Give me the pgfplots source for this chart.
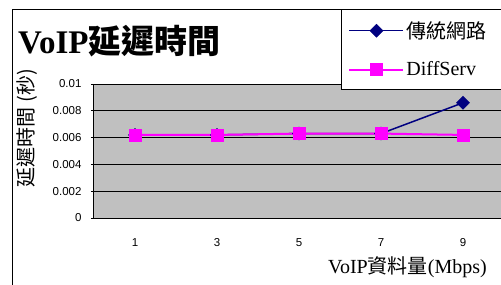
\documentclass[border=0pt]{standalone}
\usepackage{pgfplots}
\pgfplotsset{compat=1.18}
\usepackage{fontspec}
\setmainfont{Liberation Serif}
\setsansfont{Liberation Sans}
\newfontfamily\cjk{Noto Sans CJK TC}
\definecolor{navy}{RGB}{0,0,128}
\definecolor{mag}{RGB}{255,0,255}
\definecolor{bg}{RGB}{192,192,192}
\begin{document}
\begin{tikzpicture}[x=1pt,y=1pt]
\path[use as bounding box] (0,0) rectangle (501,-284);
\clip (0,0) rectangle (501,-284);
\draw[black, line width=1pt] (12,-9) rectangle (700,-400);
\node[anchor=base west, inner sep=0] at (18,-53) {\fontsize{33}{33}\selectfont\bfseries VoIP{\cjk\bfseries 延遲時間}};
\node[rotate=90, inner sep=0] at (27,-128) {\fontsize{20}{20}\selectfont\cjk 延遲時間 (秒)};
\node[anchor=base west, inner sep=0] at (328,-273) {\fontsize{20}{20}\selectfont VoIP{\cjk 資料量}(Mbps)};
\begin{axis}[
  at={(94pt,-218pt)}, anchor=south west,
  width=410pt, height=134pt, scale only axis,
  xmin=0, xmax=5, ymin=0, ymax=0.01,
  scaled y ticks=false,
  axis background/.style={fill=bg},
  axis lines*=left, axis line style={black, line width=1pt, -},
  xtick={0.5,1.5,2.5,3.5,4.5}, xticklabels={1,3,5,7,9},
  minor xtick={0,1,2,3,4,5},
  xtick style={draw=none},
  minor tick length=7pt, major tick length=6pt,
  tick align=center,
  tick style={black, line width=0.8pt},
  ytick={0,0.002,0.004,0.006,0.008,0.01},
  yticklabels={0,0.002,0.004,0.006,0.008,0.01},
  ymajorgrids, major grid style={black, line width=0.8pt},
  ticklabel style={font=\fontsize{11.5}{12}\selectfont\sffamily},
  yticklabel shift=6pt,
  xticklabel shift=14pt,
  clip=false,
  legend style={at={(0.6024,1.5597)}, anchor=north west, draw=black, line width=1pt, fill=white,
    font=\fontsize{20}{20}\selectfont, inner xsep=7pt, inner ysep=10pt, row sep=18pt, cells={anchor=west}},
  legend cell align=left,
  legend image code/.code={\draw[mark repeat=2,mark phase=2,#1] plot coordinates {(0pt,0pt) (27pt,0pt) (54pt,0pt)};},
]
\addplot[navy, line width=1.5pt, mark=diamond*, mark size=6.5pt, mark options={xscale=1.33, line width=0.5pt}]
  coordinates {(0.5,0.0062)(1.5,0.0062)(2.5,0.0063)(3.5,0.0063)(4.5,0.0086)};
\addlegendentry{\cjk 傳統網路\hspace*{12pt}}
\addplot[mag, line width=2pt, mark=square*, mark size=6pt, mark options={line width=0.5pt}]
  coordinates {(0.5,0.0062)(1.5,0.0062)(2.5,0.0063)(3.5,0.0063)(4.5,0.0062)};
\addlegendentry{DiffServ}
\end{axis}
\end{tikzpicture}
\end{document}
